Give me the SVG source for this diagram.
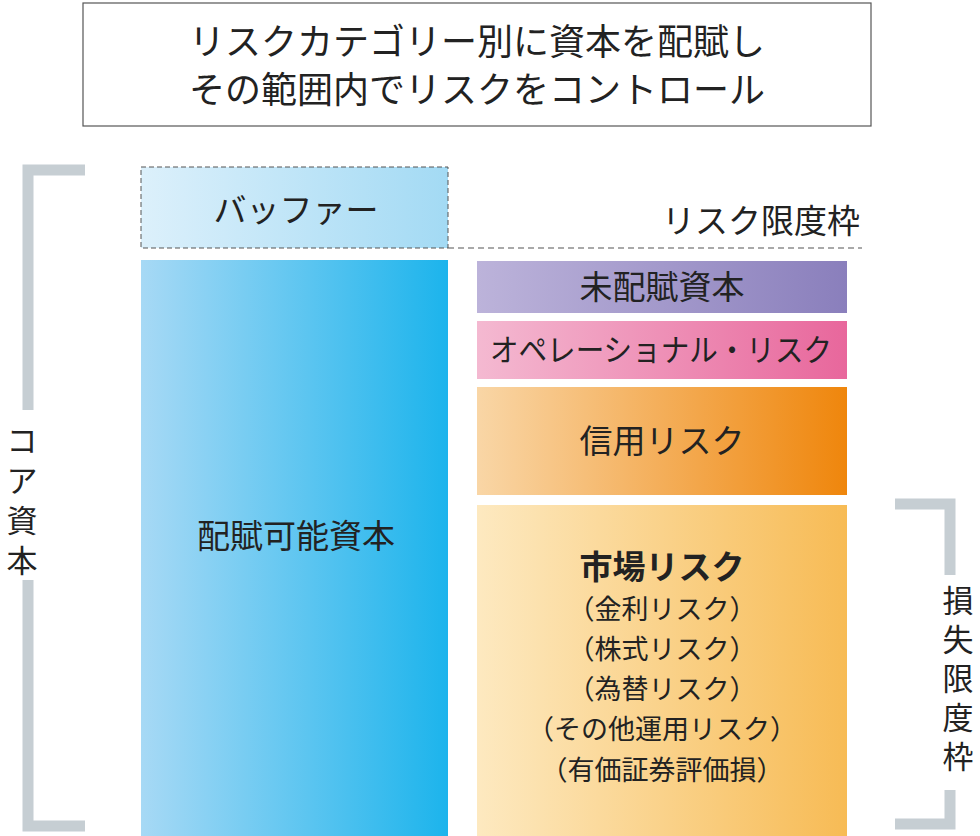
<svg xmlns="http://www.w3.org/2000/svg" width="980" height="836" viewBox="0 0 980 836">
<defs>
<linearGradient id="gBuf"><stop offset="0" stop-color="#dcf0fb"/><stop offset="1" stop-color="#a3daf4"/></linearGradient>
<linearGradient id="gCap"><stop offset="0" stop-color="#a7d9f5"/><stop offset="1" stop-color="#1cb4ec"/></linearGradient>
<linearGradient id="gUn"><stop offset="0" stop-color="#bcb3da"/><stop offset="1" stop-color="#8a7fbc"/></linearGradient>
<linearGradient id="gOp"><stop offset="0" stop-color="#f4b9d1"/><stop offset="1" stop-color="#e8679c"/></linearGradient>
<linearGradient id="gCr"><stop offset="0" stop-color="#f9d6a6"/><stop offset="1" stop-color="#ef860c"/></linearGradient>
<linearGradient id="gMk"><stop offset="0" stop-color="#fde9c0"/><stop offset="1" stop-color="#f7bb55"/></linearGradient>
</defs>
<style>
text{font-family:"Noto Sans CJK JP","Noto Sans",sans-serif;fill:#222;text-anchor:middle}
.br{fill:none;stroke:#c6ced3;stroke-width:11}
.l{font-size:33px}
.v{font-size:31px}
.s{font-size:27px}
</style>
<rect width="980" height="836" fill="#fff"/>
<g id="title">
<rect x="83" y="3" width="788" height="123" fill="#fff" stroke="#555" stroke-width="1.2"/>
<text x="477" y="55" style="font-size:36px">リスクカテゴリー別に資本を配賦し</text>
<text x="477" y="103" style="font-size:36px">その範囲内でリスクをコントロール</text>
</g>
<g id="core-bracket">
<path class="br" d="M85 170H28V410M28 580V826H85"/>
<text x="22" y="452" class="v">コ</text>
<text x="22" y="492" class="v">ア</text>
<text x="22" y="532" class="v">資</text>
<text x="22" y="572" class="v">本</text>
</g>
<g id="buffer">
<rect x="141" y="167" width="307" height="81" fill="url(#gBuf)" stroke="#555" stroke-dasharray="5,3"/>
<text x="296" y="222" class="l">バッファー</text>
</g>
<g id="connectors">
<line x1="448" y1="248" x2="862" y2="248" stroke="#555" stroke-width="1.2" stroke-dasharray="6,4"/>
</g>
<g id="limit-label"><text x="761" y="233" class="l">リスク限度枠</text></g>
<g id="capital">
<rect x="141" y="260" width="307" height="576" fill="url(#gCap)"/>
<text x="296" y="548" class="l">配賦可能資本</text>
</g>
<g id="unallocated">
<rect x="477" y="261" width="370" height="52" fill="url(#gUn)"/>
<text x="662" y="299" class="l">未配賦資本</text>
</g>
<g id="operational">
<rect x="477" y="321" width="370" height="58" fill="url(#gOp)"/>
<text x="661" y="361" style="font-size:31px" textLength="342" lengthAdjust="spacingAndGlyphs">オペレーショナル・リスク</text>
</g>
<g id="credit">
<rect x="477" y="387" width="370" height="108" fill="url(#gCr)"/>
<text x="662" y="453" class="l">信用リスク</text>
</g>
<g id="market">
<rect x="477" y="505" width="370" height="331" fill="url(#gMk)"/>
<text x="662" y="579" class="l" font-weight="bold">市場リスク</text>
<text x="662" y="619" class="s">（金利リスク）</text>
<text x="662" y="659" class="s">（株式リスク）</text>
<text x="662" y="699" class="s">（為替リスク）</text>
<text x="662" y="739" class="s">（その他運用リスク）</text>
<text x="662" y="780" class="s">（有価証券評価損）</text>
</g>
<g id="loss-bracket">
<path class="br" d="M895 504H950V575M950 790V824H895"/>
<text x="958" y="612" class="v">損</text>
<text x="958" y="651" class="v">失</text>
<text x="958" y="690" class="v">限</text>
<text x="958" y="729" class="v">度</text>
<text x="958" y="768" class="v">枠</text>
</g>
</svg>
